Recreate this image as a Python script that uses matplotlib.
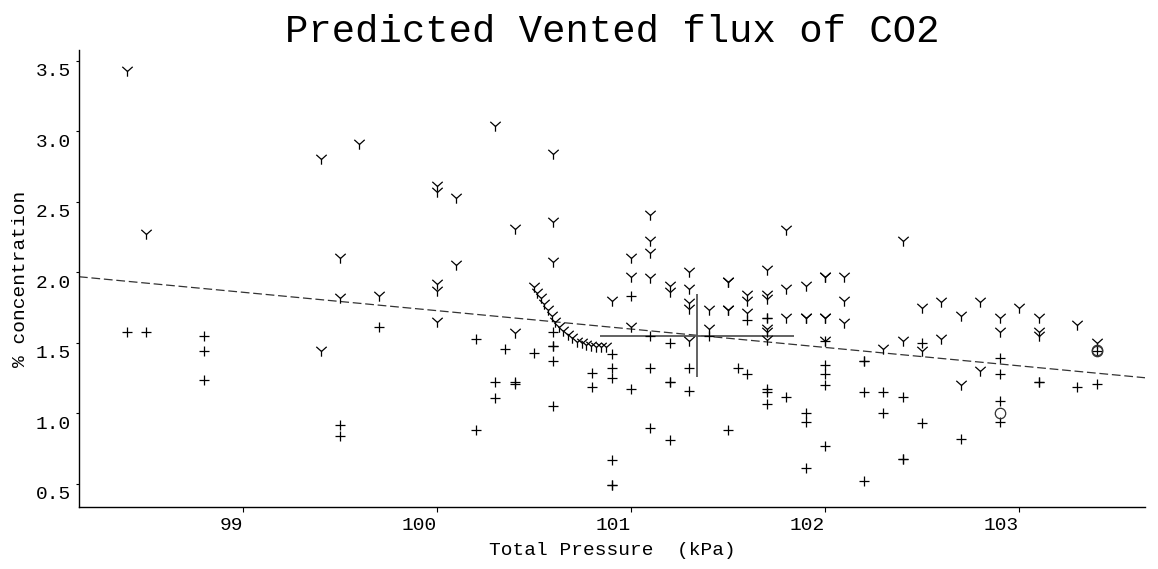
import matplotlib
matplotlib.use("Agg")
import matplotlib.pyplot as plt
import matplotlib.transforms as mtransforms
from matplotlib.path import Path

plt.rcParams['font.family'] = ['Liberation Mono', 'DejaVu Sans Mono']

# measured points (Y markers)
meas_x = [98.4, 98.5, 99.6, 99.4, 100.3, 100.6, 100.0, 100.0, 100.1, 100.4,
          100.6, 99.5, 100.1, 100.6, 100.0, 100.0, 99.5, 99.7, 100.0, 99.4,
          100.4, 101.1, 101.1, 101.8, 101.1, 101.0, 101.7, 101.0, 101.1, 101.3,
          101.5, 101.5, 102.0, 102.0, 101.2, 101.2, 101.3, 101.6, 101.6, 101.7,
          101.7, 101.8, 101.9, 101.3, 101.3, 100.9, 101.4, 101.5, 101.5, 101.6,
          101.8, 101.9, 101.9, 102.0, 102.0, 101.0, 101.4, 101.7, 101.7, 101.7,
          101.3, 102.0, 102.4, 102.1, 102.1, 102.1, 102.5, 102.6, 102.8, 102.7,
          103.0, 102.9, 102.9, 103.1, 103.1, 103.1, 103.3, 103.4, 102.3, 102.4,
          102.5, 102.6, 102.8, 102.7]
meas_y = [3.43, 2.27, 2.91, 2.80, 3.04, 2.84, 2.61, 2.57, 2.53, 2.31,
          2.36, 2.10, 2.05, 2.07, 1.92, 1.87, 1.82, 1.83, 1.65, 1.44,
          1.57, 2.41, 2.22, 2.30, 2.14, 2.10, 2.02, 1.97, 1.96, 2.00,
          1.93, 1.93, 1.97, 1.97, 1.90, 1.86, 1.88, 1.84, 1.80, 1.84,
          1.81, 1.88, 1.90, 1.78, 1.74, 1.80, 1.73, 1.73, 1.73, 1.71,
          1.68, 1.68, 1.68, 1.68, 1.68, 1.61, 1.60, 1.60, 1.58, 1.52,
          1.51, 1.51, 2.22, 1.97, 1.80, 1.64, 1.75, 1.79, 1.79, 1.69,
          1.75, 1.68, 1.58, 1.68, 1.58, 1.55, 1.63, 1.50, 1.46, 1.51,
          1.44, 1.53, 1.30, 1.20]

# predicted curve (Y markers)
curve_x = [100.502, 100.517, 100.535, 100.553, 100.571, 100.591, 100.608,
           100.630, 100.651, 100.674, 100.694, 100.720, 100.746, 100.768,
           100.792, 100.820, 100.845, 100.871]
curve_y = [1.894, 1.852, 1.816, 1.776, 1.733, 1.691, 1.650, 1.615, 1.584,
           1.556, 1.533, 1.509, 1.497, 1.485, 1.478, 1.473, 1.473, 1.473]

# plus markers
plus_x = [98.4, 98.5, 98.8, 98.8, 98.8, 99.7, 99.5, 99.5, 100.2, 100.2,
          100.3, 100.3, 100.35, 100.4, 100.4, 100.5, 100.6, 100.6, 100.6, 100.6,
          100.6, 100.8, 100.8, 100.9, 100.9, 100.9, 100.9, 100.9, 100.9, 101.0,
          101.0, 101.1, 101.1, 101.1, 101.2, 101.2, 101.2, 101.2, 101.3, 101.3,
          101.4, 101.5, 101.55, 101.6, 101.6, 101.7, 101.7, 101.7, 101.7, 101.7,
          101.8, 101.9, 101.9, 101.9, 102.0, 102.0, 102.0, 102.0, 102.0, 102.2,
          102.2, 102.2, 102.2, 102.3, 102.3, 102.4, 102.4, 102.4, 102.5, 102.5,
          102.7, 102.9, 102.9, 102.9, 102.9, 103.1, 103.1, 103.3, 103.4, 103.4]
plus_y = [1.58, 1.58, 1.55, 1.44, 1.24, 1.61, 0.92, 0.84, 1.53, 0.88,
          1.22, 1.11, 1.46, 1.22, 1.21, 1.43, 1.58, 1.48, 1.48, 1.37,
          1.05, 1.29, 1.19, 1.42, 1.32, 1.25, 0.67, 0.49, 0.49, 1.83,
          1.17, 1.55, 1.32, 0.90, 1.50, 1.22, 1.22, 0.81, 1.32, 1.16,
          1.55, 0.88, 1.32, 1.28, 1.66, 1.68, 1.68, 1.17, 1.15, 1.07,
          1.12, 1.00, 0.94, 0.61, 1.51, 1.34, 1.28, 1.20, 0.77, 1.37,
          1.37, 1.15, 0.52, 1.15, 1.00, 1.12, 0.68, 0.68, 1.50, 0.93,
          0.82, 1.39, 1.28, 1.09, 0.94, 1.22, 1.22, 1.19, 1.21, 1.44]

# circled points
circ_x = [103.4, 103.4, 102.9]
circ_y = [1.44, 1.45, 1.00]

# fitted line endpoints
fit_x = [98.155, 103.649]
fit_y = [1.969, 1.253]

# mean with spread
mean_x = 101.34
mean_y = 1.551
spread_x = 0.50
spread_y = 0.295

x_ticks = [99, 100, 101, 102, 103]
y_ticks = [0.5, 1.0, 1.5, 2.0, 2.5, 3.0, 3.5]

# letter-Y shaped marker
ymark = Path([(0, 0), (-1, 0.9), (0, 0), (1, 0.9), (0, 0), (0, -1)],
             [Path.MOVETO, Path.LINETO, Path.MOVETO, Path.LINETO,
              Path.MOVETO, Path.LINETO])

fig = plt.figure(figsize=(11.58, 5.69), dpi=100)
ax = fig.add_axes([0.0682, 0.1090, 0.9206, 0.8031])

ax.plot(fit_x, fit_y, color='#333333', lw=0.9, linestyle=(0, (7, 3)))
ax.errorbar(mean_x, mean_y, xerr=spread_x, yerr=spread_y, fmt='none',
            ecolor='#555555', elinewidth=1.3, capsize=0)
ax.plot(meas_x, meas_y, linestyle='none', marker=ymark, ms=7.5, mew=0.9, color='black')
ax.plot(curve_x, curve_y, linestyle='none', marker=ymark, ms=7.5, mew=0.9, color='black')
ax.plot(plus_x, plus_y, linestyle='none', marker='+', ms=7.5, mew=0.9, color='black')
ax.plot(circ_x, circ_y, linestyle='none', marker='o', ms=7.5, mew=0.9,
        mfc='none', mec='#333333')

ax.set_xlim(98.155, 103.649)
ax.set_ylim(0.337, 3.576)
ax.set_xticks(x_ticks, labels=[str(t) for t in x_ticks], ha='right')
ax.set_yticks(y_ticks, labels=['%.1f' % t for t in y_ticks], va='center')

for s in ['top', 'right']:
    ax.spines[s].set_visible(False)
for s in ['left', 'bottom']:
    ax.spines[s].set_linewidth(1.0)

ax.tick_params(axis='x', direction='out', length=3.6, pad=3.6, labelsize=14)
ax.tick_params(axis='y', direction='out', length=2.2, pad=3.5, labelsize=14)

off = mtransforms.ScaledTranslation(0, -0.11, fig.dpi_scale_trans)
for lab in ax.get_yticklabels():
    lab.set_transform(lab.get_transform() + off)

ax.set_xlabel('Total Pressure  (kPa)', fontsize=14, labelpad=6)
ax.set_ylabel('% concentration', fontsize=14, labelpad=5)
ax.set_title('Predicted Vented flux of CO2', fontsize=28, pad=6)

fig.savefig('out.png', dpi=100)
